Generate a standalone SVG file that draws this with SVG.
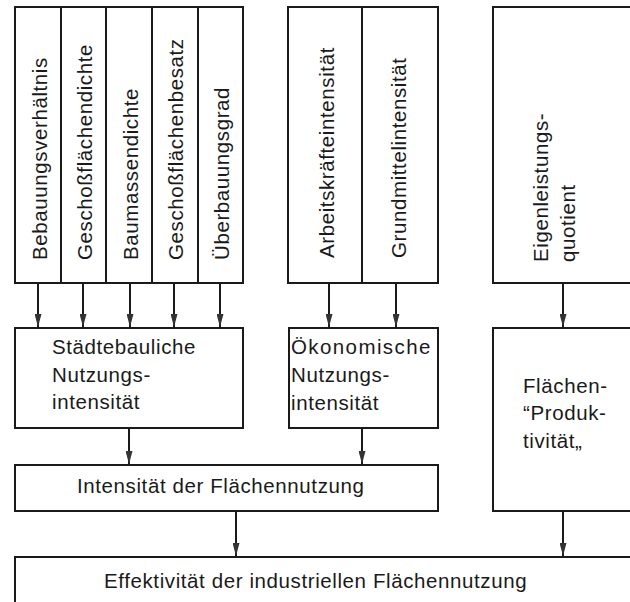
<svg xmlns="http://www.w3.org/2000/svg" width="630" height="602" viewBox="0 0 630 602">
<defs>
<marker id="arr" markerWidth="13" markerHeight="7" refX="13" refY="3.5" orient="auto" markerUnits="userSpaceOnUse" viewBox="0 0 13 7">
<path d="M0,0 L13,3.5 L0,7 Z" fill="#333"/>
</marker>
<style>
.box{fill:#fff;stroke:#1a1a1a;stroke-width:2}
.div{stroke:#1a1a1a;stroke-width:2}
.t{font-family:"Liberation Sans",Arial,sans-serif;font-size:20.5px;letter-spacing:0.6px;fill:#1a1a1a}
.c{stroke:#1a1a1a;stroke-width:2;fill:none}
</style>
</defs>
<rect width="630" height="602" fill="#fff"/>

<g id="staedtebau-kennzahlen">
<rect class="box" x="15" y="7" width="228" height="276"/>
<line class="div" x1="61" y1="7" x2="61" y2="283"/>
<line class="div" x1="106" y1="7" x2="106" y2="283"/>
<line class="div" x1="152" y1="7" x2="152" y2="283"/>
<line class="div" x1="198" y1="7" x2="198" y2="283"/>
<text class="t" transform="translate(47,260) rotate(-90)">Bebauungsverhältnis</text>
<text class="t" transform="translate(92,260) rotate(-90)">Geschoßflächendichte</text>
<text class="t" transform="translate(138,260) rotate(-90)">Baumassendichte</text>
<text class="t" transform="translate(183,260) rotate(-90)">Geschoßflächenbesatz</text>
<text class="t" transform="translate(229,260) rotate(-90)">Überbauungsgrad</text>
</g>

<g id="oekonomische-kennzahlen">
<rect class="box" x="288" y="7" width="150" height="276"/>
<line class="div" x1="362" y1="7" x2="362" y2="283"/>
<text class="t" transform="translate(334,258) rotate(-90)">Arbeitskräfteintensität</text>
<text class="t" transform="translate(406,258) rotate(-90)">Grundmittelintensität</text>
</g>

<g id="eigenleistungsquotient">
<rect class="box" x="493" y="7" width="150" height="276"/>
<text class="t" transform="translate(548,262) rotate(-90)">Eigenleistungs-</text>
<text class="t" transform="translate(575,262) rotate(-90)">quotient</text>
</g>

<g id="staedtebauliche-nutzungsintensitaet">
<rect class="box" x="15" y="328" width="228" height="100"/>
<text class="t" x="52" y="354">Städtebauliche</text>
<text class="t" x="52" y="382">Nutzungs-</text>
<text class="t" x="52" y="409">intensität</text>
</g>

<g id="oekonomische-nutzungsintensitaet">
<rect class="box" x="289" y="328" width="149" height="100"/>
<text class="t" x="291" y="354" textLength="140" lengthAdjust="spacing">Ökonomische</text>
<text class="t" x="291" y="382">Nutzungs-</text>
<text class="t" x="291" y="410">intensität</text>
</g>

<g id="flaechenproduktivitaet">
<rect class="box" x="493" y="328" width="150" height="183"/>
<text class="t" x="523" y="393">Flächen-</text>
<text class="t" x="523" y="420">“Produk-</text>
<text class="t" x="523" y="448">tivität„</text>
</g>

<g id="intensitaet-flaechennutzung">
<rect class="box" x="15" y="465" width="423" height="46"/>
<text class="t" x="77" y="493">Intensität der Flächennutzung</text>
</g>

<g id="effektivitaet">
<rect class="box" x="15" y="557" width="628" height="50"/>
<text class="t" x="104" y="588">Effektivität der industriellen Flächennutzung</text>
</g>

<g id="connectors">
<line class="c" x1="38" y1="283" x2="38" y2="327" marker-end="url(#arr)"/>
<line class="c" x1="83" y1="283" x2="83" y2="327" marker-end="url(#arr)"/>
<line class="c" x1="130" y1="283" x2="130" y2="327" marker-end="url(#arr)"/>
<line class="c" x1="174" y1="283" x2="174" y2="327" marker-end="url(#arr)"/>
<line class="c" x1="220" y1="283" x2="220" y2="327" marker-end="url(#arr)"/>
<line class="c" x1="329" y1="283" x2="329" y2="327" marker-end="url(#arr)"/>
<line class="c" x1="396" y1="283" x2="396" y2="327" marker-end="url(#arr)"/>
<line class="c" x1="563" y1="283" x2="563" y2="327" marker-end="url(#arr)"/>
<line class="c" x1="129" y1="428" x2="129" y2="464" marker-end="url(#arr)"/>
<line class="c" x1="362" y1="428" x2="362" y2="464" marker-end="url(#arr)"/>
<line class="c" x1="236" y1="511" x2="236" y2="556" marker-end="url(#arr)"/>
<line class="c" x1="563" y1="511" x2="563" y2="556" marker-end="url(#arr)"/>
</g>
</svg>
